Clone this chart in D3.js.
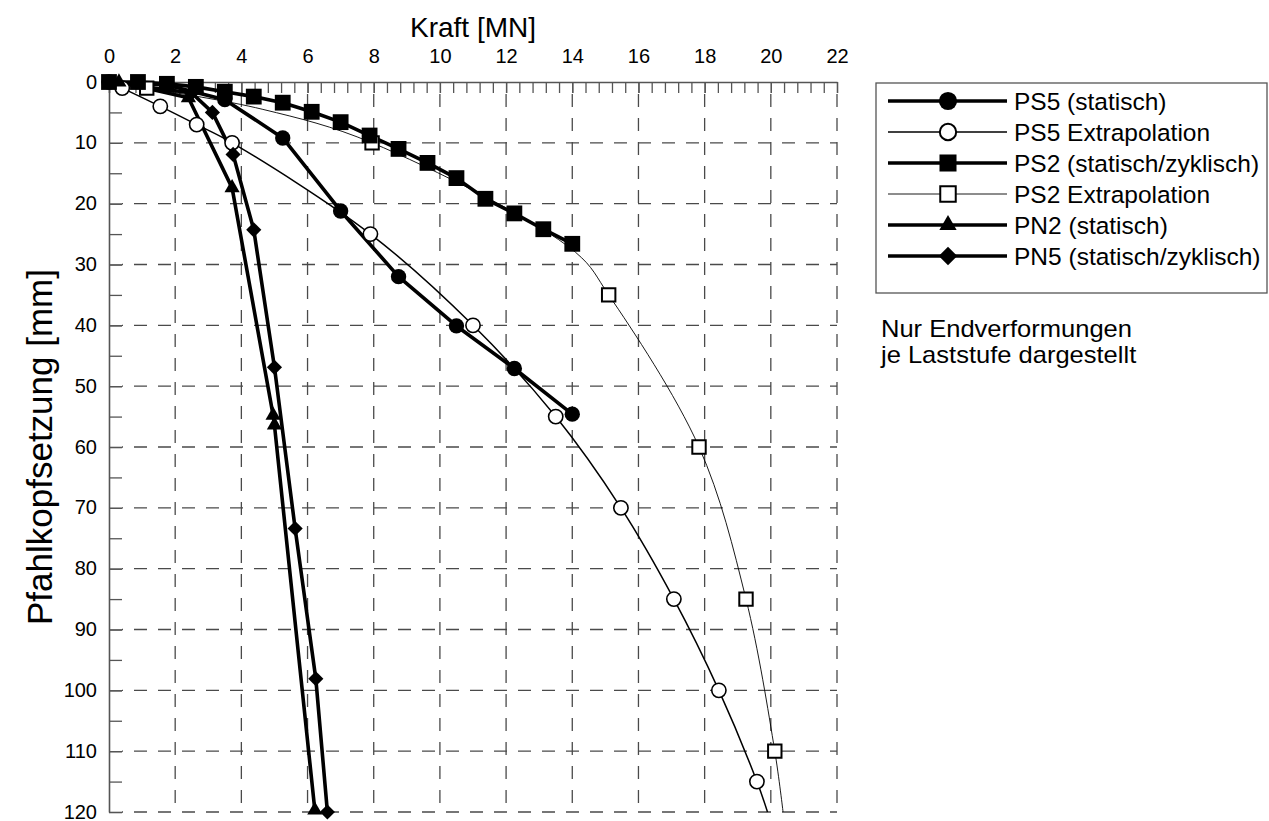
<!DOCTYPE html>
<html>
<head>
<meta charset="utf-8">
<script src="https://cdn.jsdelivr.net/npm/d3@7/dist/d3.min.js"></script>
<style>
  html, body { margin: 0; padding: 0; background: #fff; }
  svg { display: block; font-family: "Liberation Sans", Arial, sans-serif; }
</style>
</head>
<body>
<svg id="chart" width="1269" height="821"></svg>
<script>
// ---------- data (Kraft [MN], Pfahlkopfsetzung [mm]) ----------
const ps5Force = [0, 1.75, 3.5, 5.25, 7.0, 8.75, 10.5, 12.25, 14.0];
const ps5Settl = [0, 0.5, 2.9, 9.2, 21.2, 32.0, 40.1, 47.1, 54.6];

const ps5ExtForce = [0.4, 1.55, 2.65, 3.72, 7.9, 11.0, 13.5, 15.47, 17.07, 18.43, 19.58];
const ps5ExtSettl = [1, 4, 7, 10, 25, 40, 55, 70, 85, 100, 115];
// path of the drawn extrapolation curve (start and end)
const ps5ExtPathForce = [0, 0.4, 1.55, 2.65, 3.72, 7.9, 11.0, 13.5, 15.47, 17.07, 18.43, 19.58, 19.9];
const ps5ExtPathSettl = [0, 1, 4, 7, 10, 25, 40, 55, 70, 85, 100, 115, 120];

const ps2Force = [0, 0.875, 1.75, 2.625, 3.5, 4.375, 5.25, 6.125, 7.0, 7.875, 8.75, 9.625, 10.5, 11.375, 12.25, 13.125, 14.0];
const ps2Settl = [0, 0.0, 0.3, 0.8, 1.6, 2.4, 3.4, 4.9, 6.6, 8.8, 11.0, 13.3, 15.8, 19.2, 21.6, 24.2, 26.6];

const ps2ExtForce = [1.14, 7.95, 15.1, 17.83, 19.25, 20.12];
const ps2ExtSettl = [1, 10, 35, 60, 85, 110];
const ps2ExtPathForce = [0, 1.14, 4.65, 7.95, 14.1, 15.1, 17.83, 19.25, 20.12, 20.37];
const ps2ExtPathSettl = [0, 1, 4.5, 10, 28, 35, 60, 85, 110, 120];

const pn2Force = [0.3, 2.4, 3.72, 4.96, 5.0, 6.22];
const pn2Settl = [0, 2.6, 17.4, 54.8, 56.4, 119.7];

const pn5Force = [0, 2.5, 3.125, 3.75, 4.375, 5.0, 5.625, 6.25, 6.6];
const pn5Settl = [0, 1.8, 5.0, 11.9, 24.3, 46.9, 73.4, 98.1, 120];

const xTicksMajor = [0, 2, 4, 6, 8, 10, 12, 14, 16, 18, 20, 22];
const yTicksMajor = [0, 10, 20, 30, 40, 50, 60, 70, 80, 90, 100, 110, 120];

const legendLabels = ["PS5 (statisch)", "PS5 Extrapolation", "PS2 (statisch/zyklisch)",
                      "PS2 Extrapolation", "PN2 (statisch)", "PN5 (statisch/zyklisch)"];
const noteLines = ["Nur Endverformungen", "je Laststufe dargestellt"];

// ---------- layout ----------
const svg = d3.select("#chart");
const x = d3.scaleLinear().domain([0, 22]).range([109, 837]);
const y = d3.scaleLinear().domain([0, 120]).range([82, 812]);
const zip = (a, b) => a.map((v, i) => [v, b[i]]);

const gridColor = "#4a4a4a";
const dash = "13,11";

// grid
const grid = svg.append("g");
grid.selectAll("line.v").data(xTicksMajor.slice(1)).join("line")
  .attr("x1", d => x(d)).attr("x2", d => x(d))
  .attr("y1", y(0) + 12).attr("y2", y(120))
  .attr("stroke", gridColor).attr("stroke-width", 1.3).attr("stroke-dasharray", dash);
grid.selectAll("line.h").data(yTicksMajor.slice(1)).join("line")
  .attr("x1", x(0) + 13).attr("x2", x(22))
  .attr("y1", d => y(d)).attr("y2", d => y(d))
  .attr("stroke", gridColor).attr("stroke-width", 1.3).attr("stroke-dasharray", dash)
  .attr("stroke-dashoffset", -12);

// top axis
const xMinor = d3.range(0, 55.5).map(i => +(i * 0.4).toFixed(2));
svg.append("g").attr("transform", `translate(0,${y(0)})`)
  .call(d3.axisTop(x).tickValues(xMinor).tickSizeInner(-11).tickSizeOuter(0).tickFormat(""));
const topMajor = svg.append("g").attr("transform", `translate(0,${y(0)})`)
  .call(d3.axisTop(x).tickValues(xTicksMajor).tickSizeInner(-11).tickSizeOuter(0).tickPadding(19).tickFormat(d3.format("d")));
topMajor.select(".domain").remove();

// left axis
const yMinor = d3.range(0, 121, 5);
svg.append("g").attr("transform", `translate(${x(0)},0)`)
  .call(d3.axisLeft(y).tickValues(yMinor).tickSizeInner(-13).tickSizeOuter(0).tickFormat(""));
const leftMajor = svg.append("g").attr("transform", `translate(${x(0)},0)`)
  .call(d3.axisLeft(y).tickValues(yTicksMajor).tickSizeInner(-13).tickSizeOuter(0).tickPadding(12).tickFormat(d3.format("d")));
leftMajor.select(".domain").remove();
leftMajor.selectAll(".tick text").attr("dy", "0.3em");

svg.selectAll(".tick line").attr("stroke", "#555").attr("stroke-width", 1.3);
svg.selectAll(".domain").attr("stroke", "#555").attr("stroke-width", 1.6);
svg.selectAll(".tick text").attr("font-size", 20).attr("fill", "#000")
  .attr("font-family", "'Liberation Sans', Arial, sans-serif");

// axis titles
svg.append("text").attr("x", (x(0) + x(22)) / 2).attr("y", 37).attr("text-anchor", "middle")
  .attr("font-size", 28).text("Kraft [MN]");
svg.append("text").attr("transform", `translate(52,${(y(0) + y(120)) / 2}) rotate(-90)`)
  .attr("text-anchor", "middle").attr("font-size", 35).text("Pfahlkopfsetzung [mm]");

// ---------- series ----------
const lineStraight = d3.line().x(d => x(d[0])).y(d => y(d[1]));
const lineSmooth = d3.line().x(d => x(d[0])).y(d => y(d[1])).curve(d3.curveCatmullRom.alpha(0.5));
const plot = svg.append("g");

const diamondPath = s => `M0,${-s}L${s},0L0,${s}L${-s},0Z`;
function sym(type, size) {
  if (type === "diamond") return diamondPath(Math.sqrt(size / 2));
  return d3.symbol().type(type).size(size)();
}

// extrapolation curves
plot.append("path").datum(zip(ps2ExtPathForce, ps2ExtPathSettl)).attr("d", lineSmooth)
  .attr("fill", "none").attr("stroke", "#000").attr("stroke-width", 0.9);
plot.append("path").datum(zip(ps5ExtPathForce, ps5ExtPathSettl)).attr("d", lineSmooth)
  .attr("fill", "none").attr("stroke", "#000").attr("stroke-width", 1.5);

// measured lines
const measured = [
  { f: ps2Force, s: ps2Settl, sym: d3.symbolSquare, size: 250 },
  { f: ps5Force, s: ps5Settl, sym: d3.symbolCircle, size: 185 },
  { f: pn2Force, s: pn2Settl, sym: d3.symbolTriangle, size: 100 },
  { f: pn5Force, s: pn5Settl, sym: "diamond", size: 115 }
];
measured.forEach(m => {
  plot.append("path").datum(zip(m.f, m.s)).attr("d", lineStraight)
    .attr("fill", "none").attr("stroke", "#000").attr("stroke-width", 3.6).attr("stroke-linejoin", "round");
});

// open markers
plot.selectAll("path.ps5ext").data(zip(ps5ExtForce, ps5ExtSettl)).join("path")
  .attr("transform", d => `translate(${x(d[0])},${y(d[1])})`)
  .attr("d", sym(d3.symbolCircle, 160)).attr("fill", "#fff").attr("stroke", "#000").attr("stroke-width", 1.6);
plot.selectAll("path.ps2ext").data(zip(ps2ExtForce, ps2ExtSettl)).join("path")
  .attr("transform", d => `translate(${x(d[0])},${y(d[1])})`)
  .attr("d", sym(d3.symbolSquare, 180)).attr("fill", "#fff").attr("stroke", "#000").attr("stroke-width", 2);

// filled markers
measured.forEach(m => {
  plot.append("g").selectAll("path").data(zip(m.f, m.s)).join("path")
    .attr("transform", d => `translate(${x(d[0])},${y(d[1])})`)
    .attr("d", sym(m.sym, m.size)).attr("fill", "#000");
});

// ---------- legend ----------
const lg = svg.append("g");
lg.append("rect").attr("x", 876).attr("y", 83).attr("width", 391).attr("height", 210)
  .attr("fill", "#fff").attr("stroke", "#555").attr("stroke-width", 1.3);
const legendStyle = [
  { w: 3.6, sym: d3.symbolCircle, size: 260, fill: "#000" },
  { w: 1.5, sym: d3.symbolCircle, size: 210, fill: "#fff" },
  { w: 3.6, sym: d3.symbolSquare, size: 290, fill: "#000" },
  { w: 0.9, sym: d3.symbolSquare, size: 240, fill: "#fff" },
  { w: 3.6, sym: d3.symbolTriangle, size: 130, fill: "#000" },
  { w: 3.6, sym: "diamond", size: 170, fill: "#000" }
];
legendLabels.forEach((lab, i) => {
  const cy = 101 + 31 * i, st = legendStyle[i];
  lg.append("line").attr("x1", 888).attr("x2", 1007).attr("y1", cy).attr("y2", cy)
    .attr("stroke", "#000").attr("stroke-width", st.w);
  lg.append("path").attr("transform", `translate(948,${cy})`).attr("d", sym(st.sym, st.size))
    .attr("fill", st.fill).attr("stroke", "#000").attr("stroke-width", st.fill === "#fff" ? 2 : 0);
  lg.append("text").attr("x", 1014).attr("y", cy).attr("dy", "0.36em").attr("font-size", 24.5).text(lab);
});

// note (slightly widened glyphs so that the two lines keep the reference spacing)
noteLines.forEach((t, i) => {
  svg.append("text").attr("transform", `translate(881,${337 + 26 * i}) scale(1.1,1)`)
    .attr("font-size", 23.2).text(t);
});
</script>
</body>
</html>
